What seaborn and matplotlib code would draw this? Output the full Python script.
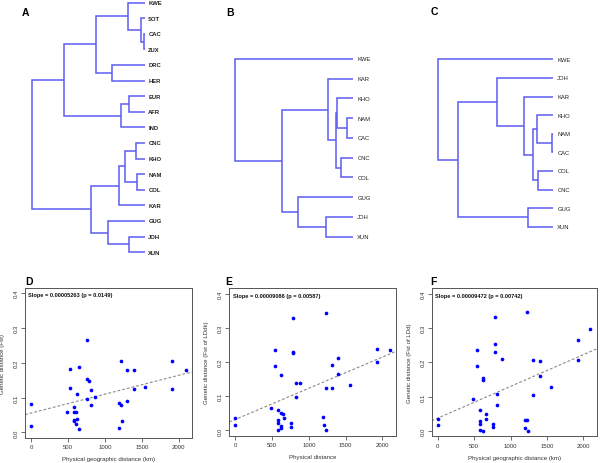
import numpy as np
import pandas as pd
import matplotlib
matplotlib.use("Agg")
import matplotlib.pyplot as plt
import seaborn as sns

plt.rcParams['font.family'] = ['Liberation Sans', 'DejaVu Sans']

W, H = 600, 464

# ---------------- Dendrogram data ----------------
A_labels = ["KWE", "SOT", "CAC", "ZUX", "DRC", "HER", "EUR", "AFR", "IND",
            "CNC", "KHO", "NAM", "COL", "KAR", "GUG", "JOH", "XUN"]
# (child_a, child_b, height); leaves 0..n-1, merge k gets id n+k
A_merges = [(2, 3, 0.6), (1, 17, 4.3), (0, 18, 17.3), (4, 5, 33.3), (19, 20, 49.3),
            (6, 7, 15.7), (22, 8, 24.3), (21, 23, 80.7), (9, 10, 9.3), (11, 12, 7.7),
            (25, 26, 19.7), (27, 13, 26.3), (15, 16, 16.0), (14, 29, 36.7),
            (28, 30, 54.3), (24, 31, 113.3)]

B_labels = ["KWE", "KAR", "KHO", "NAM", "CAC", "CNC", "COL", "GUG", "JOH", "XUN"]
B_merges = [(3, 4, 6.0), (2, 10, 16.7), (5, 6, 12.0), (11, 12, 17.3), (1, 13, 25.0),
            (8, 9, 27.3), (7, 15, 55.0), (14, 16, 71.0), (0, 17, 118.7)]

C_labels = ["KWE", "JOH", "KAR", "KHO", "NAM", "CAC", "COL", "CNC", "GUG", "XUN"]
C_merges = [(4, 5, 1.0), (3, 10, 16.7), (6, 7, 15.0), (11, 12, 20.0), (2, 13, 29.3),
            (1, 14, 56.7), (8, 9, 25.7), (15, 16, 95.7), (0, 17, 115.0)]

# ---------------- Scatter data ----------------
D_x = [0, 0, 481, 527, 531, 576, 580, 580, 580, 607, 607, 616, 621, 648, 652, 751, 751,
       760, 778, 810, 810, 868, 1192, 1192, 1224, 1224, 1228, 1300, 1300, 1390, 1390,
       1543, 1912, 1912, 2092]
D_y = [0.082, 0.018, 0.058, 0.128, 0.181, 0.058, 0.073, 0.036, 0.032, 0.058, 0.023,
       0.109, 0.039, 0.011, 0.187, 0.152, 0.095, 0.264, 0.148, 0.122, 0.079, 0.102,
       0.085, 0.013, 0.204, 0.080, 0.034, 0.180, 0.090, 0.180, 0.126, 0.129, 0.204,
       0.126, 0.179]

E_x = [0, 0, 485, 535, 535, 580, 585, 585, 585, 617, 621, 621, 621, 653, 658, 762, 762,
       785, 785, 785, 821, 821, 875, 1188, 1202, 1234, 1234, 1238, 1315, 1315, 1397,
       1397, 1556, 1927, 1932, 2104]
E_y = [0.037, 0.017, 0.065, 0.235, 0.189, 0.061, 0.031, 0.021, 0.002, 0.006, 0.161,
       0.052, 0.012, 0.048, 0.036, 0.021, 0.011, 0.330, 0.230, 0.227, 0.138, 0.099,
       0.138, 0.039, 0.016, 0.344, 0.123, 0.002, 0.191, 0.123, 0.212, 0.165, 0.132,
       0.237, 0.200, 0.236]

F_x = [0, 0, 486, 535, 535, 585, 585, 585, 585, 621, 621, 625, 657, 657, 756, 756, 783,
       783, 783, 814, 814, 877, 1197, 1197, 1228, 1228, 1233, 1305, 1305, 1400, 1400,
       1557, 1926, 1926, 2097]
F_y = [0.035, 0.016, 0.092, 0.237, 0.189, 0.060, 0.030, 0.020, 0.001, 0.155, 0.000,
       0.149, 0.048, 0.035, 0.020, 0.010, 0.331, 0.253, 0.231, 0.108, 0.075, 0.210,
       0.032, 0.009, 0.346, 0.032, 0.000, 0.208, 0.106, 0.205, 0.160, 0.129, 0.266,
       0.206, 0.298]

x_ticks = [0, 500, 1000, 1500, 2000]
y_ticks = [0.0, 0.1, 0.2, 0.3, 0.4]
y_ticklabels = ["0.0", "0.1", "0.2", "0.3", "0.4"]

slope_texts = ["Slope = 0.00005263 (p = 0.0149)",
               "Slope = 0.00009086 (p = 0.00587)",
               "Slope = 0.00009472 (p = 0.00742)"]
x_labels = ["Physical geographic distance (km)", "Physical distance",
            "Physical geographic distance (km)"]
y_labels = ["Genetic distance (Fst)", "Genetic distance (Fst of LDdk)",
            "Genetic distance (Fst of LDd)"]

LINE = "#5c5cf2"
TXT = "#222222"

fig = plt.figure(figsize=(W / 100, H / 100), dpi=100)


def px_axes(l, t, w, h):
    return fig.add_axes([l / W, 1 - (t + h) / H, w / W, h / H])


def draw_dendro(l, t, w, h, leaf_x, y0, dy, gap, labels, merges, weight):
    ax = px_axes(l, t, w, h)
    ax.set_xlim(leaf_x, leaf_x - w)
    ax.set_ylim((h - y0) / dy, -y0 / dy)
    ax.axis("off")
    n = len(labels)
    ys = [float(i) for i in range(n)]
    hs = [0.0] * n
    for a, b, hh in merges:
        ax.plot([hs[a], hh, hh, hs[b]], [ys[a], ys[a], ys[b], ys[b]],
                color=LINE, lw=1.1, solid_capstyle="butt", solid_joinstyle="miter")
        ys.append((ys[a] + ys[b]) / 2)
        hs.append(hh)
    for i, lab in enumerate(labels):
        ax.text(-gap, i, lab, ha="left", va="center", fontsize=4.2,
                color=TXT, fontweight=weight)
    return ax


draw_dendro(0, 0, 200, 262, 145, 3.5, 15.6, 3.3, A_labels, A_merges, "bold")
draw_dendro(200, 0, 200, 262, 153.3, 60, 19.74, 4, B_labels, B_merges, "normal")
draw_dendro(400, 0, 200, 262, 153.3, 60.3, 18.6, 4, C_labels, C_merges, "normal")

for lab, x, y in [("A", 22, 16), ("B", 226, 16), ("C", 430.5, 15)]:
    fig.text(x / W, 1 - y / H, lab, fontsize=7.5, fontweight="bold",
             ha="left", va="baseline", color="black")

boxes = [(25, 288.5, 167.3, 150.5), (229.3, 289.3, 166.7, 147.6), (431.7, 289.3, 165, 148)]
datasets = [(D_x, D_y), (E_x, E_y), (F_x, F_y)]
letters = [("D", 25), ("E", 225), ("F", 430.5)]

for k in range(3):
    l, t, w, h = boxes[k]
    ax = px_axes(l, t, w, h)
    df = pd.DataFrame({"x": datasets[k][0], "y": datasets[k][1]})
    ax.set_xlim(-84, 2184)
    ax.set_ylim(-0.016, 0.416)
    sns.regplot(data=df, x="x", y="y", ax=ax, scatter=False, ci=None, truncate=False,
                line_kws=dict(color="#8a8a8a", lw=0.8, ls=(0, (2.5, 1.8))))
    sns.scatterplot(data=df, x="x", y="y", ax=ax, color="#0000ff", s=7,
                    linewidth=0, marker="o", zorder=3)
    ax.set_xlim(-84, 2184)
    ax.set_ylim(-0.016, 0.416)
    ax.set_xticks(x_ticks)
    ax.set_xticklabels([str(v) for v in x_ticks])
    ax.set_yticks(y_ticks)
    ax.set_yticklabels(y_ticklabels, rotation=90, va="center")
    ax.tick_params(axis="both", length=3, width=0.6, color="#555555",
                   labelsize=4.3, labelcolor="#333333", pad=1.5)
    for sp in ax.spines.values():
        sp.set_color("#555555")
        sp.set_linewidth(0.7)
    ax.set_xlabel(x_labels[k], fontsize=4.4, color="#333333")
    ax.set_ylabel(y_labels[k], fontsize=4.4, color="#333333")
    ax.xaxis.set_label_coords(0.5, -21 / h)
    ax.yaxis.set_label_coords(-22.5 / w, 0.5)
    ax.xaxis.label.set_va("center")
    ax.yaxis.label.set_va("center")
    ax.text(3.5 / w, 1 - 7.2 / h, slope_texts[k], transform=ax.transAxes,
            fontsize=4.1, fontweight="bold", ha="left", va="center", color="#111111")
    lt, lx = letters[k]
    fig.text(lx / W, 1 - 285 / H, lt, fontsize=7.5, fontweight="bold",
             ha="left", va="baseline", color="black")

fig.savefig("out.png", dpi=100)
